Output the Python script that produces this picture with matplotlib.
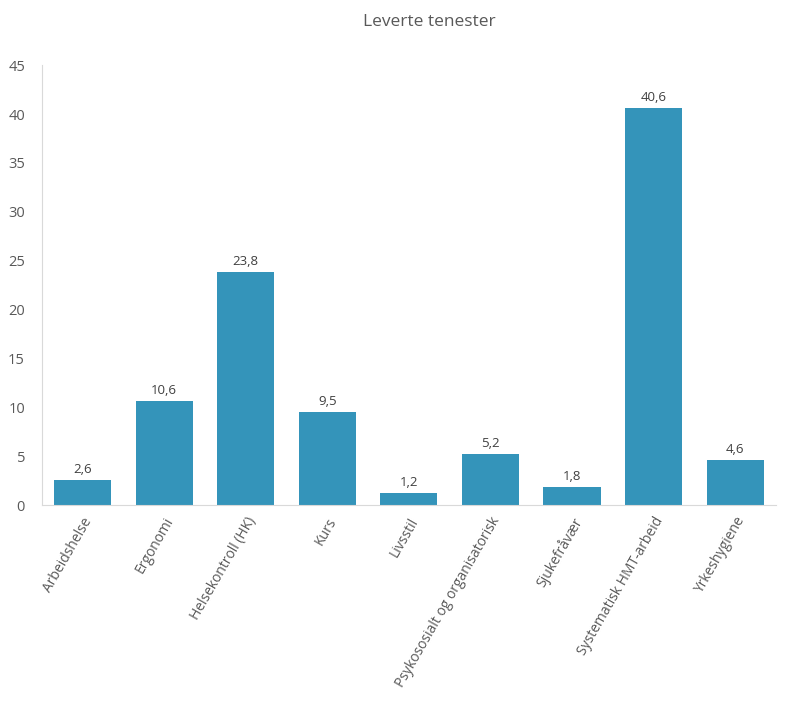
import numpy as np
import matplotlib
matplotlib.use("Agg")
import matplotlib.pyplot as plt

plt.rcParams['font.family'] = ['Open Sans', 'DejaVu Sans']

categories = ["Arbeidshelse", "Ergonomi", "Helsekontroll (HK)", "Kurs", "Livsstil",
              "Psykososialt og organisatorisk", "Sjukefråvær",
              "Systematisk HMT-arbeid", "Yrkeshygiene"]
values = [2.6, 10.6, 23.8, 9.5, 1.2, 5.2, 1.8, 40.6, 4.6]
yticks = [0, 5, 10, 15, 20, 25, 30, 35, 40, 45]

fig = plt.figure(figsize=(7.87, 7.01), dpi=100)
ax = fig.add_axes([0.053, 0.2796, 0.933, 0.6274])

x = np.arange(len(categories))
bars = ax.bar(x, values, width=0.7, color="#3494ba")
for xi, v in zip(x, values):
    ax.text(xi, v + 0.4, f"{v:.1f}".replace(".", ","), ha="center", va="bottom",
            fontsize=9.5, color="#404040")

ax.set_xlim(-0.5, len(categories) - 0.5)
ax.set_ylim(0, 45)
ax.set_yticks(yticks)
ax.set_xticks(x)
ax.set_xticklabels(categories, rotation=60, ha="right", rotation_mode="anchor",
                   fontsize=10, color="#595959")
ax.tick_params(axis="y", labelsize=10.5, colors="#595959", length=0, pad=12)
ax.tick_params(axis="x", length=0, pad=7)
for s in ["top", "right"]:
    ax.spines[s].set_visible(False)
ax.spines["left"].set_color("#d9d9d9")
ax.spines["bottom"].set_color("#d9d9d9")

fig.text(0.545, 0.968, "Leverte tenester", ha="center", va="center",
         fontsize=12.5, color="#595959")

plt.savefig("out.png", dpi=100)
